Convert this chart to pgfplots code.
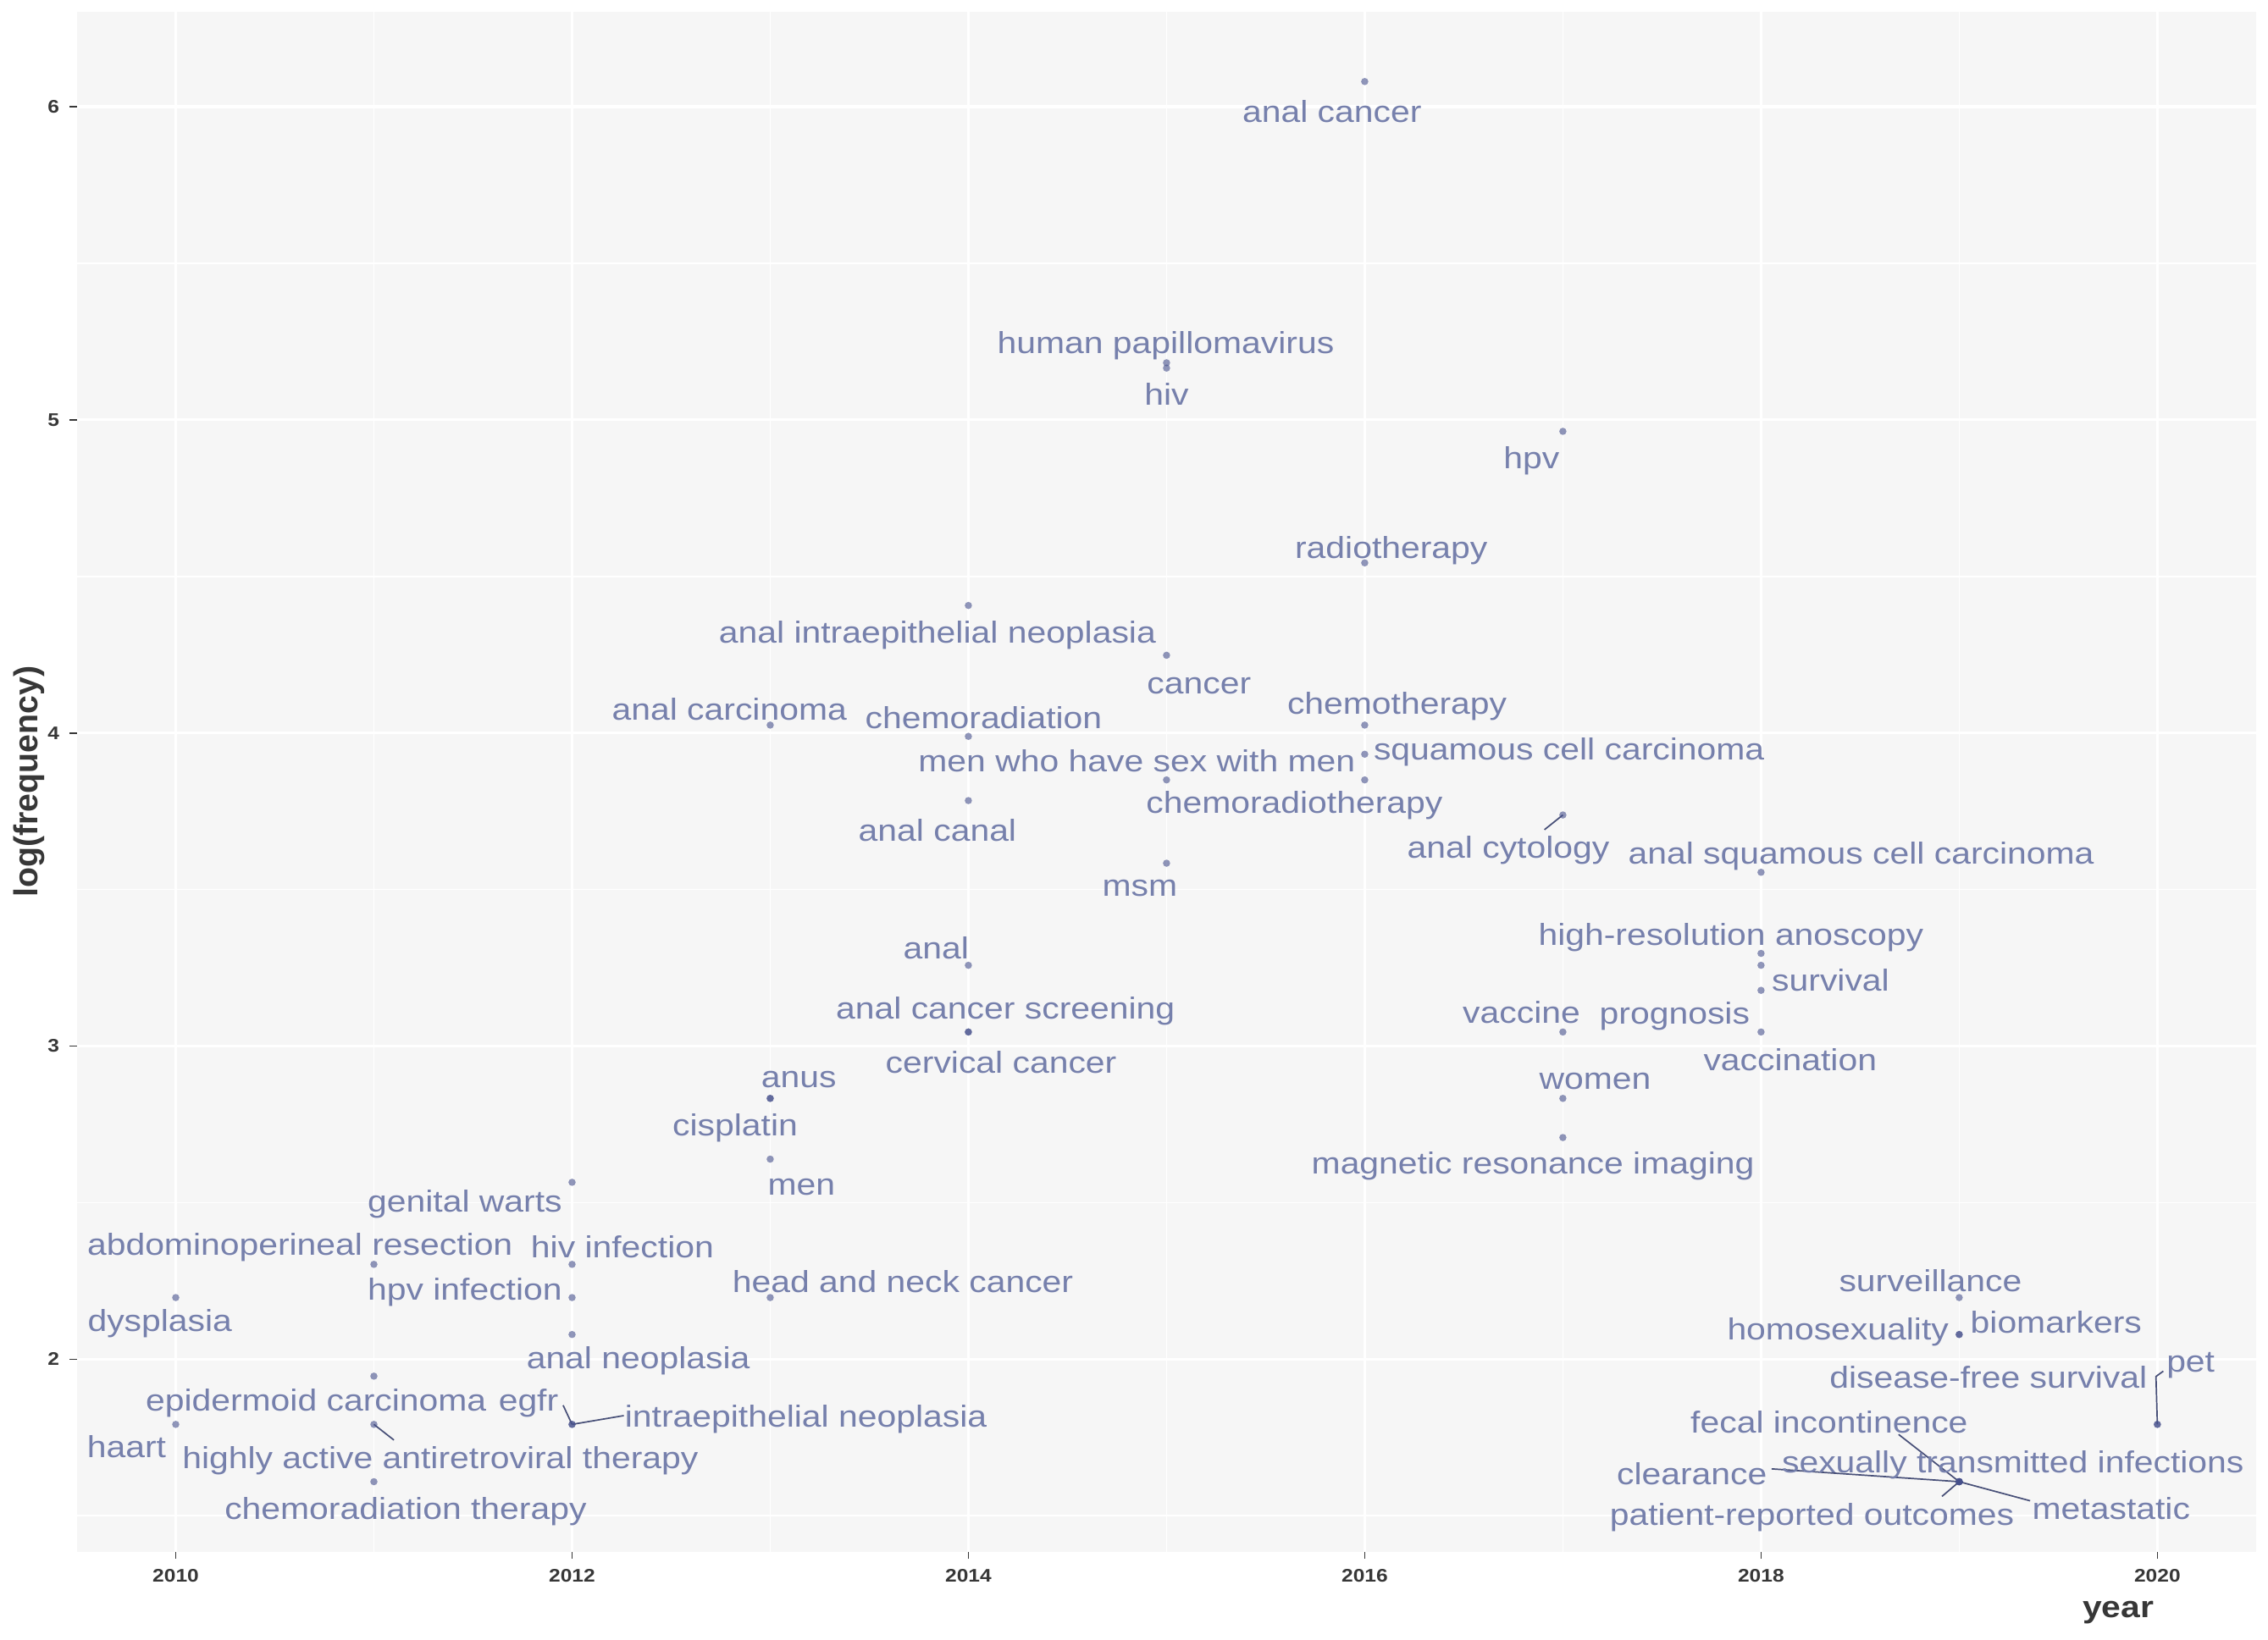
\documentclass[border=0pt]{standalone}
\usepackage{fontspec}
\setmainfont{Liberation Sans}[FakeStretch=1.14]
\newfontfamily\ylabfont{Liberation Sans}
\usepackage{pgfplots}
\pgfplotsset{compat=1.18}
\definecolor{labc}{RGB}{118,128,172}
\definecolor{dotc}{RGB}{70,80,140}
\definecolor{segc}{RGB}{72,80,120}
\definecolor{panelbg}{RGB}{246,246,246}
\definecolor{tickc}{RGB}{55,55,55}
\tikzset{lab/.style={text=labc, font=\fontsize{10.5}{12}\selectfont, inner sep=0pt, yshift=-1.2pt}}
\newcommand\lbl[3]{\node[lab] at (axis cs:#1,#2) {#3};}
\begin{document}
\begin{tikzpicture}
\path[use as bounding box] (-26.5pt,-30.5pt) rectangle (757.5pt,536.5pt);
\begin{axis}[
  at={(0,0)}, anchor=south west, scale only axis,
  width=753.5pt, height=532.5pt,
  xmin=2009.5, xmax=2020.5, ymin=1.3858, ymax=6.3036,
  clip=false,
  axis background/.style={fill=panelbg},
  axis line style={draw=none},
  xtick={2010,2012,...,2020}, minor xtick={2011,2013,...,2019},
  ytick={2,3,4,5,6}, minor ytick={1.5,2.5,3.5,4.5,5.5},
  grid=both,
  major grid style={white, line width=1pt},
  minor grid style={white, line width=0.5pt},
  tick pos=left, tick align=outside,
  major tick length=2.5pt, minor tick length=0pt,
  major tick style={tickc, line width=0.5pt},
  ticklabel style={font=\bfseries\fontsize{6.3}{7}\selectfont, text=tickc},
  /pgf/number format/1000 sep={},
  /pgf/number format/assume math mode=true,
]
\addplot[only marks, mark=*, color=dotc, mark size=1.25pt, mark options={solid, fill=dotc, draw opacity=0, fill opacity=0.6}] table {
x y
2010 2.197
2010 1.792
2011 2.303
2011 1.946
2011 1.792
2011 1.609
2012 2.565
2012 2.303
2012 2.197
2012 2.079
2012 1.792
2012 1.792
2013 4.025
2013 2.833
2013 2.833
2013 2.639
2013 2.197
2014 4.407
2014 3.989
2014 3.784
2014 3.258
2014 3.045
2014 3.045
2015 5.182
2015 5.165
2015 4.248
2015 3.850
2015 3.584
2016 6.080
2016 4.543
2016 4.025
2016 3.932
2016 3.850
2017 4.963
2017 3.738
2017 3.045
2017 2.833
2017 2.708
2018 3.555
2018 3.296
2018 3.258
2018 3.178
2018 3.045
2019 2.197
2019 2.079
2019 2.079
2019 1.609
2019 1.609
2019 1.609
2019 1.609
2019 1.609
2020 1.792
2020 1.792
};
% repel segments
\addplot[segc, line width=0.5pt] coordinates {(2017,3.738) (2016.907,3.691)};
\addplot[segc, line width=0.5pt] coordinates {(2012,1.792) (2011.955,1.853)};
\addplot[segc, line width=0.5pt] coordinates {(2012,1.792) (2012.261,1.820)};
\addplot[segc, line width=0.5pt] coordinates {(2011,1.792) (2011.101,1.742)};
\addplot[segc, line width=0.5pt] coordinates {(2020,1.792) (2019.993,1.945) (2020.030,1.962)};
\addplot[segc, line width=0.5pt] coordinates {(2019,1.609) (2018.694,1.760)};
\addplot[segc, line width=0.5pt] coordinates {(2019,1.609) (2018.053,1.650)};
\addplot[segc, line width=0.5pt] coordinates {(2019,1.609) (2019.358,1.548)};
\addplot[segc, line width=0.5pt] coordinates {(2019,1.609) (2018.913,1.562)};
% labels
\lbl{2015.835}{5.995}{anal cancer}
\lbl{2014.996}{5.249}{human papillomavirus}
\lbl{2015.000}{5.092}{hiv}
\lbl{2016.842}{4.880}{hpv}
\lbl{2016.134}{4.594}{radiotherapy}
\lbl{2013.844}{4.323}{anal intraepithelial neoplasia}
\lbl{2015.164}{4.161}{cancer}
\lbl{2012.794}{4.088}{anal carcinoma}
\lbl{2014.077}{4.060}{chemoradiation}
\lbl{2016.163}{4.097}{chemotherapy}
\lbl{2014.850}{3.922}{men who have sex with men}
\lbl{2017.031}{3.949}{squamous cell carcinoma}
\lbl{2015.645}{3.779}{chemoradiotherapy}
\lbl{2013.844}{3.700}{anal canal}
\lbl{2016.725}{3.636}{anal cytology}
\lbl{2018.505}{3.618}{anal squamous cell carcinoma}
\lbl{2014.865}{3.516}{msm}
\lbl{2013.837}{3.323}{anal}
\lbl{2017.848}{3.359}{high-resolution anoscopy}
\lbl{2018.351}{3.221}{survival}
\lbl{2017.564}{3.106}{prognosis}
\lbl{2016.791}{3.120}{vaccine}
\lbl{2014.187}{3.124}{anal cancer screening}
\lbl{2014.165}{2.959}{cervical cancer}
\lbl{2018.147}{2.968}{vaccination}
\lbl{2013.144}{2.903}{anus}
\lbl{2017.163}{2.899}{women}
\lbl{2012.823}{2.751}{cisplatin}
\lbl{2016.849}{2.627}{magnetic resonance imaging}
\lbl{2013.158}{2.562}{men}
\lbl{2011.459}{2.507}{genital warts}
\lbl{2010.627}{2.369}{abdominoperineal resection}
\lbl{2012.254}{2.369}{hiv infection}
\lbl{2013.669}{2.258}{head and neck cancer}
\lbl{2011.459}{2.226}{hpv infection}
\lbl{2009.920}{2.124}{dysplasia}
\lbl{2012.334}{2.005}{anal neoplasia}
\lbl{2010.708}{1.871}{epidermoid carcinoma}
\lbl{2011.780}{1.871}{egfr}
\lbl{2013.180}{1.820}{intraepithelial neoplasia}
\lbl{2009.752}{1.733}{haart}
\lbl{2011.335}{1.687}{highly active antiretroviral therapy}
\lbl{2011.160}{1.525}{chemoradiation therapy}
\lbl{2018.855}{2.263}{surveillance}
\lbl{2019.489}{2.129}{biomarkers}
\lbl{2018.388}{2.097}{homosexuality}
\lbl{2019.147}{1.954}{disease-free survival}
\lbl{2020.168}{1.991}{pet}
\lbl{2018.344}{1.811}{fecal incontinence}
\lbl{2019.271}{1.673}{sexually transmitted infections}
\lbl{2017.651}{1.645}{clearance}
\lbl{2019.767}{1.535}{metastatic}
\lbl{2018.257}{1.507}{patient-reported outcomes}
% axis titles
\node[anchor=east, yshift=-21pt, text=tickc, font=\bfseries\fontsize{10.5}{12}\selectfont, inner sep=0pt] at (axis cs:2019.985,1.3858) {year};
\node[xshift=-16.5pt, rotate=90, text=tickc, font=\ylabfont\bfseries\fontsize{11.5}{13}\selectfont, inner sep=0pt] at (rel axis cs:0,0.5) {log(frequency)};
\end{axis}
\end{tikzpicture}
\end{document}
